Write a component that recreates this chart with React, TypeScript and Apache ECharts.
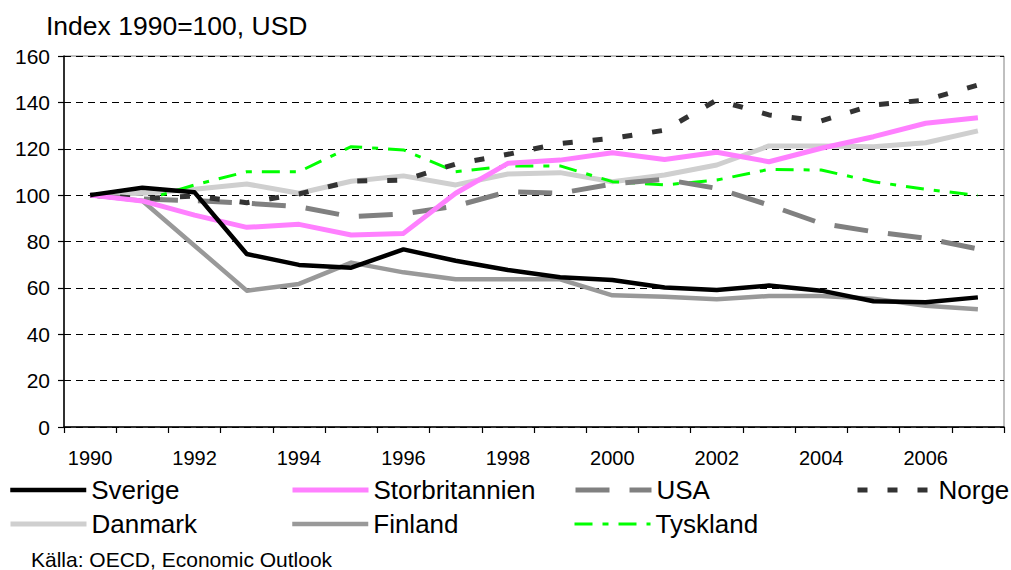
import React, { useEffect, useRef } from "react";
import * as echarts from "echarts";

const years = ["1990","1991","1992","1993","1994","1995","1996","1997","1998","1999","2000","2001","2002","2003","2004","2005","2006","2007"];
const yTicks = [0, 20, 40, 60, 80, 100, 120, 140, 160];

const sverige = [100, 103.2, 101.2, 74.6, 69.9, 68.7, 76.6, 71.7, 67.7, 64.6, 63.4, 60.2, 59.1, 61.0, 58.8, 54.2, 53.8, 55.9];
const storbritannien = [100, 97.5, 91.4, 86.1, 87.4, 82.8, 83.5, 100.8, 113.7, 115.1, 118.3, 115.4, 118.5, 114.4, 120.2, 125.2, 131.0, 133.4];
const usa = [100, 98.3, 97.6, 96.5, 95.0, 90.7, 91.9, 95.3, 101.5, 100.8, 104.8, 106.8, 102.9, 95.7, 87.8, 84.2, 81.4, 76.8];
const norge = [100, 98.5, 99.6, 96.7, 100.5, 106.0, 106.5, 113.4, 117.6, 122.3, 124.5, 128.0, 141.0, 134.6, 132.0, 138.9, 141.0, 147.5];
const danmark = [100, 100.8, 102.5, 104.8, 100.8, 106.0, 108.3, 104.4, 109.1, 109.7, 105.8, 108.7, 113.0, 121.2, 121.2, 120.9, 122.6, 127.7];
const finland = [100, 97.6, 78.2, 58.8, 61.7, 70.9, 66.7, 63.7, 63.7, 63.7, 56.8, 56.2, 55.1, 56.5, 56.5, 55.3, 52.3, 50.8];
const tyskland = [100, 97.6, 104.4, 110.1, 110.1, 120.9, 119.5, 110.1, 112.6, 112.6, 105.8, 104.4, 106.5, 111.1, 110.8, 105.8, 102.5, 99.9];

const FONT = "'Liberation Sans', Arial, sans-serif";

type Sty = { name: string; data: number[]; color: string; width: number; type: any; z: number };

const styles: Sty[] = [
  { name: "Danmark", data: danmark, color: "#cfcfcf", width: 5, type: "solid", z: 2 },
  { name: "Finland", data: finland, color: "#999999", width: 4.5, type: "solid", z: 3 },
  { name: "Tyskland", data: tyskland, color: "#00ff00", width: 3, type: [18, 10, 6, 10], z: 4 },
  { name: "USA", data: usa, color: "#808080", width: 5, type: [34, 20], z: 5 },
  { name: "Norge", data: norge, color: "#333333", width: 5, type: [10, 20], z: 6 },
  { name: "Storbritannien", data: storbritannien, color: "#ff80ff", width: 5, type: "solid", z: 7 },
  { name: "Sverige", data: sverige, color: "#000000", width: 4.5, type: "solid", z: 8 },
];

const legendPos: Record<string, [number, number]> = {
  Sverige: [8, 477],
  Storbritannien: [290, 477],
  USA: [573, 477],
  Norge: [855, 477],
  Danmark: [8, 511],
  Finland: [290, 511],
  Tyskland: [573, 511],
};

export default function App() {
  const ref = useRef<HTMLDivElement>(null);
  useEffect(() => {
    if (!ref.current) return;
    const chart = echarts.init(ref.current, null, { renderer: "svg" });
    const series = styles.map((s) => ({
      name: s.name,
      type: "line",
      data: s.data,
      symbol: "none",
      z: s.z,
      lineStyle: { color: s.color, width: s.width, type: s.type, cap: "butt", join: "round" },
      itemStyle: { color: s.color },
    }));
    const legends = styles.map((s) => ({
      data: [s.name],
      left: legendPos[s.name][0],
      top: legendPos[s.name][1],
      padding: 0,
      itemWidth: 76,
      itemHeight: 14,
      itemStyle: { opacity: 0 },
      lineStyle: { color: s.color, width: s.width, type: s.type, cap: "butt" },
      textStyle: { fontSize: 26, color: "#000", fontFamily: FONT },
      selectedMode: false,
    }));
    chart.setOption({
      animation: false,
      backgroundColor: "#fff",
      textStyle: { fontFamily: FONT },
      title: {
        text: "Index 1990=100, USD",
        left: 46,
        top: 12,
        padding: 0,
        textStyle: { fontSize: 26.5, fontWeight: "normal", color: "#000", fontFamily: FONT },
      },
      legend: legends,
      graphic: [
        {
          type: "text",
          left: 31,
          top: 549,
          style: { text: "Källa: OECD, Economic Outlook", fontSize: 21, fill: "#000", fontFamily: FONT },
        },
      ],
      grid: {
        left: 64,
        right: 7,
        top: 56,
        bottom: 143,
        containLabel: false,
        show: true,
        borderColor: "#808080",
        borderWidth: 1,
      },
      xAxis: {
        type: "category",
        data: years,
        boundaryGap: true,
        axisLine: { show: true, lineStyle: { color: "#000", width: 1.5 } },
        axisTick: { show: true, interval: 0, length: 6, lineStyle: { color: "#000", width: 1.2 } },
        axisLabel: { interval: 1, fontSize: 20, color: "#000", margin: 21, fontFamily: FONT },
        splitLine: { show: false },
      },
      yAxis: {
        type: "value",
        min: yTicks[0],
        max: yTicks[yTicks.length - 1],
        interval: 20,
        axisLine: { show: true, lineStyle: { color: "#000", width: 1.5 } },
        axisTick: { show: true, length: 6, lineStyle: { color: "#000", width: 1.2 } },
        axisLabel: { fontSize: 21, color: "#000", margin: 14, fontFamily: FONT },
        splitLine: { show: true, lineStyle: { color: "#000", width: 1, type: [7, 5] } },
      },
      series,
    });
    return () => chart.dispose();
  }, []);
  return (
    <div
      ref={ref}
      style={{ position: "fixed", left: 0, top: 0, width: 1011, height: 570, background: "#fff" }}
    />
  );
}
